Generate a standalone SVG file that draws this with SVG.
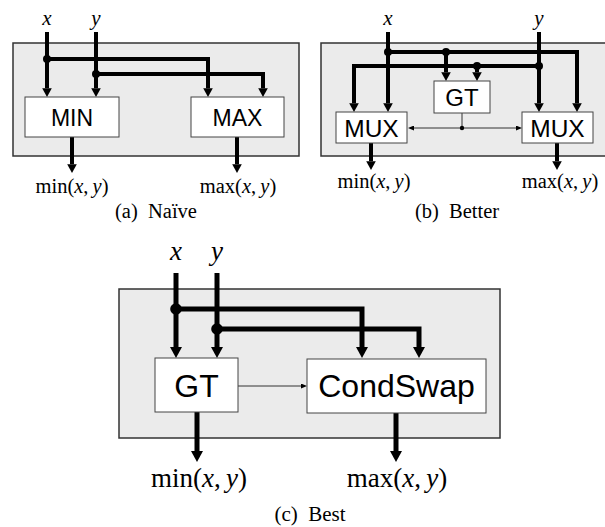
<svg xmlns="http://www.w3.org/2000/svg" width="605" height="527" viewBox="0 0 605 527">
<style>
.panel{fill:#ebebeb;stroke:#333;stroke-width:1.5}
.box{fill:#fff;stroke:#444;stroke-width:1}
.bl{font-family:"Liberation Sans",Arial,sans-serif;text-anchor:middle;fill:#000}
.m{font-family:"Liberation Serif","Times New Roman",serif;text-anchor:middle;fill:#000}
.i{font-style:italic}
.cap{font-family:"Liberation Serif","Times New Roman",serif;text-anchor:middle;fill:#000}
.w4{fill:none;stroke:#000;stroke-width:4;stroke-linejoin:miter;marker-end:url(#ah)}
.w5{fill:none;stroke:#000;stroke-width:5;stroke-linejoin:miter;marker-end:url(#ah)}
.thin{fill:none;stroke:#333;stroke-width:1;marker-end:url(#ta)}
.dot{fill:#000}
</style>
<defs>
<marker id="ah" viewBox="0 0 2.2 2.4" refX="0" refY="1.2" markerWidth="2.2" markerHeight="2.4" markerUnits="strokeWidth" orient="auto" preserveAspectRatio="none">
<path d="M0,0 L2.2,1.2 L0,2.4 z" fill="#000"/>
</marker>
<marker id="ta" viewBox="0 0 6 5" refX="0" refY="2.5" markerWidth="6" markerHeight="5" markerUnits="userSpaceOnUse" orient="auto">
<path d="M0,0 L6,2.5 L0,5 z" fill="#000"/>
</marker>
</defs>

<!-- Panel (a) -->
<rect id="panel-a" class="panel" x="13" y="43" width="286" height="113"/>
<g id="connectors-a">
<path class="w4" d="M47,32 V88.2"/>
<path class="w4" d="M96,32 V88.2"/>
<path class="w4" d="M47,59 H208 V88.2"/>
<path class="w4" d="M96,74 H263 V88.2"/>
<circle class="dot" cx="47" cy="59" r="4"/>
<circle class="dot" cx="96" cy="74" r="4"/>
<path class="w4" d="M72,137 V164.2"/>
<path class="w4" d="M237,137 V164.2"/>
</g>
<g id="node-min">
<rect class="box" x="25" y="97" width="94" height="40"/>
<text class="bl" x="72" y="125.5" font-size="23">MIN</text>
</g>
<g id="node-max">
<rect class="box" x="191" y="97" width="93" height="40"/>
<text class="bl" x="237.5" y="125.5" font-size="23">MAX</text>
</g>
<text class="m i" x="47" y="25" font-size="21">x</text>
<text class="m i" x="96" y="25" font-size="21">y</text>
<text class="m" x="72" y="193" font-size="20.5">min(<tspan class="i">x</tspan>,&#8201;<tspan class="i">y</tspan>)</text>
<text class="m" x="238" y="193" font-size="20.5">max(<tspan class="i">x</tspan>,&#8201;<tspan class="i">y</tspan>)</text>
<text class="cap" x="156" y="218" font-size="20.5">(a)&#160; Naïve</text>

<!-- Panel (b) -->
<rect id="panel-b" class="panel" x="321" y="43" width="292" height="113"/>
<g id="connectors-b">
<path class="w4" d="M388,32 V103.2"/>
<path class="w4" d="M539,32 V103.2"/>
<path class="w4" d="M388,52 H577 V103.2"/>
<path class="w4" d="M539,66 H354 V103.2"/>
<path class="w4" d="M446,52 V72.2"/>
<path class="w4" d="M477,66 V72.2"/>
<circle class="dot" cx="388" cy="52" r="4"/>
<circle class="dot" cx="446" cy="52" r="4"/>
<circle class="dot" cx="539" cy="66" r="4"/>
<circle class="dot" cx="477" cy="66" r="4"/>
<path fill="none" stroke="#333" stroke-width="1" d="M462,113 V128"/>
<path class="thin" d="M462,128 H414"/>
<path class="thin" d="M462,128 H516"/>
<circle class="dot" cx="462" cy="128" r="2.2"/>
<path class="w4" d="M371,143 V161.2"/>
<path class="w4" d="M557,143 V161.2"/>
</g>
<g id="node-gt-b">
<rect class="box" x="434" y="81" width="56" height="32"/>
<text class="bl" x="462" y="106" font-size="24">GT</text>
</g>
<g id="node-mux-left">
<rect class="box" x="336" y="112" width="71" height="31"/>
<text class="bl" x="371.5" y="137" font-size="24.5">MUX</text>
</g>
<g id="node-mux-right">
<rect class="box" x="522" y="112" width="71" height="31"/>
<text class="bl" x="557.5" y="137" font-size="24.5">MUX</text>
</g>
<text class="m i" x="388" y="25" font-size="21">x</text>
<text class="m i" x="539" y="25" font-size="21">y</text>
<text class="m" x="374" y="188" font-size="20.5">min(<tspan class="i">x</tspan>,&#8201;<tspan class="i">y</tspan>)</text>
<text class="m" x="560" y="188" font-size="20.5">max(<tspan class="i">x</tspan>,&#8201;<tspan class="i">y</tspan>)</text>
<text class="cap" x="457" y="218" font-size="20.5">(b)&#160; Better</text>

<!-- Panel (c) -->
<rect id="panel-c" class="panel" x="119" y="289" width="381" height="149"/>
<g id="connectors-c">
<path class="w5" d="M176,273 V347"/>
<path class="w5" d="M217,273 V347"/>
<path class="w5" d="M176,309 H362 V347"/>
<path class="w5" d="M217,329 H419 V347"/>
<circle class="dot" cx="176" cy="309" r="5.8"/>
<circle class="dot" cx="217" cy="329" r="5.8"/>
<path class="thin" d="M238,386 H301" stroke-width="1.2"/>
<path class="w5" d="M197,412 V451"/>
<path class="w5" d="M396,413 V451"/>
</g>
<g id="node-gt-c">
<rect class="box" x="155" y="358" width="83" height="54"/>
<text class="bl" x="196.5" y="396.5" font-size="32">GT</text>
</g>
<g id="node-condswap">
<rect class="box" x="307" y="359" width="179" height="54"/>
<text class="bl" x="396.5" y="396.5" font-size="32">CondSwap</text>
</g>
<text class="m i" x="176" y="260" font-size="27">x</text>
<text class="m i" x="217" y="260" font-size="27">y</text>
<text class="m" x="199" y="487" font-size="27">min(<tspan class="i">x</tspan>,&#8201;<tspan class="i">y</tspan>)</text>
<text class="m" x="397" y="487" font-size="27">max(<tspan class="i">x</tspan>,&#8201;<tspan class="i">y</tspan>)</text>
<text class="cap" x="310" y="521" font-size="21">(c)&#160; Best</text>
</svg>
